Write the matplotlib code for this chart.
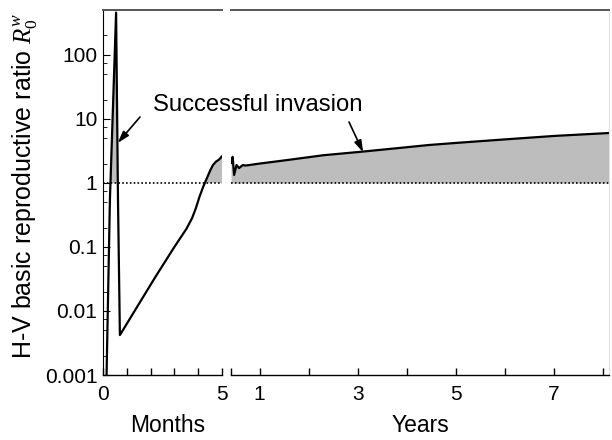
import matplotlib
matplotlib.use('Agg')
import matplotlib.pyplot as plt
import numpy as np
from matplotlib.ticker import FixedLocator, FixedFormatter, NullFormatter

plt.rcParams['font.family'] = ['Liberation Sans', 'DejaVu Sans']
plt.rcParams['mathtext.fontset'] = 'custom'
plt.rcParams['mathtext.it'] = 'Liberation Serif:italic'
plt.rcParams['mathtext.rm'] = 'Liberation Serif'

# first panel: time in months
months = [0.12, 0.15, 0.29, 0.55, 0.63, 0.71, 2.18, 3.0, 3.5, 3.74, 3.9,
          4.05, 4.2, 4.35, 4.5, 4.62, 4.75, 4.87, 5.0]
r0_months = [0.0005, 0.001, 0.54, 455, 0.54, 0.0042, 0.033, 0.1, 0.19,
             0.28, 0.4, 0.6, 0.85, 1.15, 1.55, 1.9, 2.15, 2.3, 2.6]

# second panel: time in years
years = [0.417, 0.45, 0.48, 0.53, 0.58, 0.66, 0.71, 1.0, 1.6, 2.3, 3.09,
         3.84, 4.45, 5.0, 5.88, 7.0, 8.12]
r0_years = [2.05, 2.55, 1.33, 1.9, 1.7, 1.9, 1.86, 2.0, 2.29, 2.7, 3.07,
            3.5, 3.9, 4.2, 4.7, 5.4, 6.0]

y_ticks = [0.001, 0.01, 0.1, 1, 10, 100]
y_labels = ['0.001', '0.01', '0.1', '1', '10', '100']
month_ticks = [0, 1, 2, 3, 4, 5]
month_labels = ['0', '', '', '', '', '5']
year_ticks = [1, 2, 3, 4, 5, 6, 7, 8]
year_labels = ['1', '', '3', '', '5', '', '7', '']

fig = plt.figure(figsize=(6.12, 4.4), dpi=100)
W, H = 612.0, 440.0
bot = 1 - 375 / H
hgt = (375 - 10) / H
ax1 = fig.add_axes([103 / W, bot, (222 - 103) / W, hgt])
ax2 = fig.add_axes([231 / W, bot, (609 - 231) / W, hgt])

fill_col = '#bdbdbd'
for ax, x, y in [(ax1, months, r0_months), (ax2, years, r0_years)]:
    x = np.array(x)
    y = np.array(y)
    ax.set_yscale('log')
    ax.set_ylim(0.001, 500)
    ax.fill_between(x, 1, y, where=y > 1, interpolate=True,
                    color=fill_col, lw=0)
    ax.plot(x, y, color='k', lw=1.6)
    ax.axhline(1, color='k', lw=1.2, ls=(0, (1, 1.3)))
    ax.tick_params(which='both', direction='in', labelsize=15)
    ax.tick_params(axis='x', length=5, width=1, pad=7)
    ax.spines['top'].set_color('#555555')
    ax.spines['top'].set_linewidth(1.4)
    ax.spines['bottom'].set_linewidth(1.0)

ax1.set_xlim(0, 5)
ax1.xaxis.set_major_locator(FixedLocator(month_ticks))
ax1.xaxis.set_major_formatter(FixedFormatter(month_labels))
ax1.yaxis.set_major_locator(FixedLocator(y_ticks))
ax1.yaxis.set_major_formatter(FixedFormatter(y_labels))
ax1.yaxis.set_minor_locator(matplotlib.ticker.LogLocator(subs=(2, 5, 7.5)))
ax1.yaxis.set_minor_formatter(NullFormatter())
ax1.tick_params(axis='y', which='major', length=5, pad=4)
ax1.tick_params(axis='y', which='minor', length=3)
ax1.spines['right'].set_visible(False)

ax2.set_xlim(5 / 12, 8.12)
ax2.xaxis.set_major_locator(FixedLocator([5 / 12] + year_ticks))
ax2.xaxis.set_major_formatter(FixedFormatter([''] + year_labels))
ax2.tick_params(axis='y', which='both', left=False, labelleft=False)
ax2.spines['left'].set_visible(False)
ax2.spines['right'].set_color('#e0e0e0')
ax2.spines['right'].set_linewidth(0.8)

arrow = dict(arrowstyle='-|>,head_length=0.7,head_width=0.22',
             color='k', lw=1.2, shrinkA=0, shrinkB=0)
ax1.annotate('', xy=(0.62, 4.2), xytext=(140 / W, 1 - 117 / H),
             textcoords='figure fraction', arrowprops=arrow,
             annotation_clip=False)
ax2.annotate('', xy=(3.11, 3.0), xytext=(349 / W, 1 - 122 / H),
             textcoords='figure fraction', arrowprops=arrow,
             annotation_clip=False)
fig.text(257.5 / W, 1 - 105 / H, 'Successful invasion', fontsize=17.2,
         ha='center', va='center')

fig.text(168 / W, 1 - 425 / H, 'Months', fontsize=16.5, ha='center', va='center')
fig.text(420 / W, 1 - 425 / H, 'Years', fontsize=16.5, ha='center', va='center')
fig.text(25 / W, 1 - 186 / H, r'H-V basic reproductive ratio $R_0^w$',
         fontsize=18, rotation=90, ha='center', va='center')

fig.savefig('out.png', dpi=100)
